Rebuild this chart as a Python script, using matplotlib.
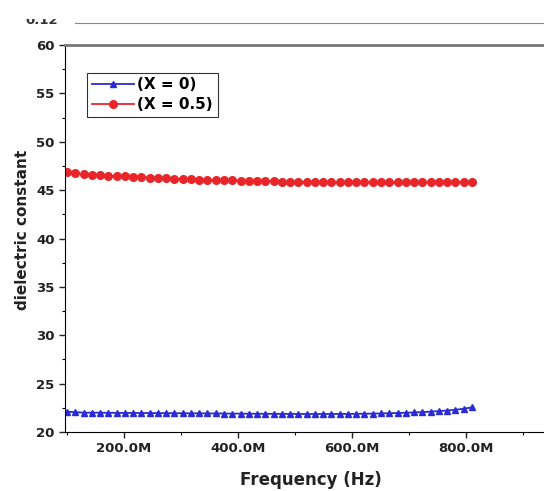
import matplotlib
matplotlib.use('Agg')
import matplotlib.pyplot as plt
from matplotlib.ticker import FuncFormatter, MultipleLocator
from matplotlib.lines import Line2D
from matplotlib.patches import Rectangle

plt.rcParams['font.family'] = ['DejaVu Sans']

# 주파수 (MHz)
freq_mhz = [100, 114.5, 129, 143.5, 158, 172.5, 187, 201.5, 216, 230.5,
            245, 259.5, 274, 288.5, 303, 317.5, 332, 346.5, 361, 375.5,
            390, 404.5, 419, 433.5, 448, 462.5, 477, 491.5, 506, 520.5,
            535, 549.5, 564, 578.5, 593, 607.5, 622, 636.5, 651, 665.5,
            680, 694.5, 709, 723.5, 738, 752.5, 767, 781.5, 796, 810.5]

# 유전 상수
eps_x0 = [22.1, 22.05, 22.0, 22.0, 22.0, 21.98, 21.98, 21.97, 21.97, 21.96,
          21.96, 21.95, 21.95, 21.94, 21.94, 21.93, 21.93, 21.92, 21.92, 21.91,
          21.9, 21.9, 21.89, 21.89, 21.88, 21.88, 21.87, 21.87, 21.86, 21.86,
          21.86, 21.86, 21.86, 21.87, 21.87, 21.88, 21.89, 21.9, 21.92, 21.94,
          21.96, 21.99, 22.02, 22.06, 22.1, 22.16, 22.22, 22.3, 22.4, 22.55]
eps_x05 = [46.85, 46.72, 46.65, 46.6, 46.55, 46.5, 46.46, 46.42, 46.38, 46.34,
           46.3, 46.26, 46.22, 46.18, 46.15, 46.12, 46.09, 46.06, 46.04, 46.02,
           46.0, 45.98, 45.96, 45.94, 45.92, 45.9, 45.88, 45.87, 45.86, 45.85,
           45.84, 45.83, 45.82, 45.82, 45.81, 45.81, 45.8, 45.8, 45.8, 45.8,
           45.8, 45.8, 45.81, 45.81, 45.82, 45.82, 45.83, 45.84, 45.85, 45.86]

labels = ['(X = 0)', '(X = 0.5)']

freq_hz = [f * 1e6 for f in freq_mhz]

fig = plt.figure(figsize=(5.44, 4.91), dpi=100)
ax = fig.add_axes([65 / 544, 1 - 432 / 491, 1 - 65 / 544, (432 - 45) / 491])

ax.plot(freq_hz, eps_x0, color='#2b2bd6', marker='^', markersize=5, lw=1.3, label=labels[0])
ax.plot(freq_hz, eps_x05, color='#e8262a', marker='o', markersize=5.5, lw=1.3, label=labels[1])

ax.set_xlim(96.5e6, 937e6)
ax.set_ylim(20, 60)
ax.xaxis.set_major_locator(MultipleLocator(200e6))
ax.xaxis.set_minor_locator(MultipleLocator(100e6))
ax.yaxis.set_major_locator(MultipleLocator(5))
ax.yaxis.set_minor_locator(MultipleLocator(2.5))
ax.xaxis.set_major_formatter(FuncFormatter(lambda v, p: f'{v / 1e6:.1f}M'))

ax.tick_params(which='major', direction='out', length=4, width=1, labelsize=9.5, colors='#222222')
ax.tick_params(which='minor', direction='out', length=2.5, width=0.8)
for lab in ax.get_xticklabels() + ax.get_yticklabels():
    lab.set_fontweight('bold')

ax.spines['right'].set_visible(False)
ax.spines['top'].set_color('#777777')
ax.spines['top'].set_linewidth(2)

ax.set_xlabel('Frequency (Hz)', fontsize=12, fontweight='bold', color='#222222')
ax.set_ylabel('dielectric constant', fontsize=11, fontweight='bold', color='#222222')
ax.xaxis.set_label_coords((311 - 65) / 479, -(471 - 432) / 387)
ax.yaxis.set_label_coords(-(65 - 30) / 479, (432 - 230) / 387)

leg = ax.legend(loc='upper left', bbox_to_anchor=(0.046, 0.928), borderaxespad=0,
                prop={'weight': 'bold', 'size': 11}, fancybox=False,
                edgecolor='black', handlelength=2.8, borderpad=0.3,
                labelspacing=0.3, handletextpad=0.2)
leg.get_frame().set_linewidth(0.8)

# 위쪽에 잘린 다른 그래프의 흔적
fig.add_artist(Line2D([75 / 544, 1], [1 - 23 / 491, 1 - 23 / 491], color='#888888', lw=0.8))
fig.text(58 / 544, 1 - 27 / 491, '0.12', fontsize=9.5, fontweight='bold', ha='right', va='bottom',
         color='#333333')
fig.add_artist(Rectangle((0, 1 - 19 / 491), 1, 19 / 491, transform=fig.transFigure,
                         facecolor='white', edgecolor='none', zorder=10))

fig.savefig('out.png', dpi=100)
